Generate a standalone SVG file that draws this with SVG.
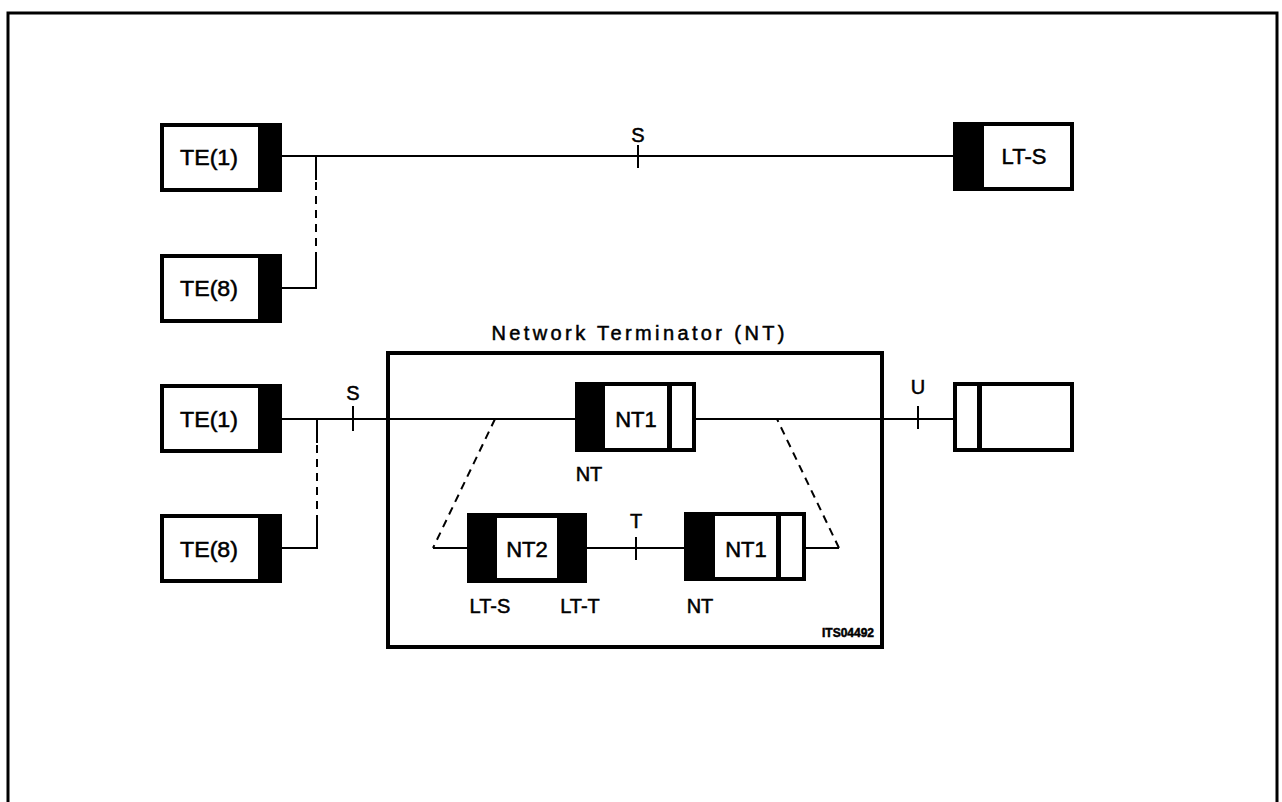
<svg xmlns="http://www.w3.org/2000/svg" width="1282" height="802" viewBox="0 0 1282 802">
<style>
text{font-family:"Liberation Sans","DejaVu Sans",sans-serif;fill:#000;stroke:#000;stroke-width:0.5}
.lbl{font-size:22px;text-anchor:middle}
.sm{font-size:20px;text-anchor:middle}
.box{fill:#fff;stroke:#000;stroke-width:4}
.blk{fill:#000}
.ln{stroke:#000;stroke-width:2;fill:none}
.dash{stroke:#000;stroke-width:2;fill:none;stroke-dasharray:8,6}
</style>
<rect width="1282" height="802" fill="#fff"/>
<path d="M8,812 V13 H1277 V812" fill="none" stroke="#000" stroke-width="3"/>

<g id="connectors">
  <line class="ln" x1="282" y1="156" x2="953" y2="156"/>
  <line class="ln" x1="638" y1="145" x2="638" y2="168"/>
  <line class="ln" x1="316" y1="156" x2="316" y2="180"/>
  <line class="dash" x1="316" y1="182" x2="316" y2="258"/>
  <polyline class="ln" points="316,258 316,288 282,288"/>

  <line class="ln" x1="282" y1="419" x2="575" y2="419"/>
  <line class="ln" x1="353" y1="406" x2="353" y2="431"/>
  <line class="ln" x1="317" y1="419" x2="317" y2="443"/>
  <line class="dash" x1="317" y1="445" x2="317" y2="520"/>
  <polyline class="ln" points="317,520 317,548 282,548"/>

  <line class="ln" x1="696" y1="419" x2="953" y2="419"/>
  <line class="ln" x1="918" y1="406" x2="918" y2="429"/>

  <line class="dash" x1="495" y1="419" x2="433" y2="548"/>
  <line class="ln" x1="433" y1="548" x2="467" y2="548"/>
  <line class="ln" x1="587" y1="548" x2="684" y2="548"/>
  <line class="ln" x1="636" y1="537" x2="636" y2="560"/>
  <line class="ln" x1="806" y1="548" x2="839" y2="548"/>
  <line class="dash" x1="839" y1="548" x2="777" y2="419"/>
</g>

<text class="sm" x="638" y="142">S</text>
<text class="sm" x="353" y="400">S</text>
<text class="sm" x="918" y="394">U</text>
<text class="sm" x="636" y="528">T</text>

<g id="te1-top">
  <rect class="box" x="162" y="125" width="118" height="65"/>
  <rect class="blk" x="258" y="123" width="24" height="69"/>
  <text class="lbl" x="209" y="165" textLength="58" lengthAdjust="spacingAndGlyphs">TE(1)</text>
</g>
<g id="te8-top">
  <rect class="box" x="162" y="256" width="118" height="65"/>
  <rect class="blk" x="258" y="254" width="24" height="69"/>
  <text class="lbl" x="209" y="296" textLength="58" lengthAdjust="spacingAndGlyphs">TE(8)</text>
</g>
<g id="lts-top">
  <rect class="box" x="955" y="124" width="117" height="65"/>
  <rect class="blk" x="953" y="122" width="31" height="69"/>
  <text class="lbl" x="1024" y="164">LT-S</text>
</g>
<g id="te1-bot">
  <rect class="box" x="162" y="386" width="118" height="65"/>
  <rect class="blk" x="258" y="384" width="24" height="69"/>
  <text class="lbl" x="209" y="427" textLength="58" lengthAdjust="spacingAndGlyphs">TE(1)</text>
</g>
<g id="te8-bot">
  <rect class="box" x="162" y="516" width="118" height="65"/>
  <rect class="blk" x="258" y="514" width="24" height="69"/>
  <text class="lbl" x="209" y="557" textLength="58" lengthAdjust="spacingAndGlyphs">TE(8)</text>
</g>

<g id="nt-frame">
  <rect x="388" y="353" width="494" height="294" fill="none" stroke="#000" stroke-width="4"/>
  <text x="638" y="340" font-size="20" text-anchor="middle" textLength="293" lengthAdjust="spacing">Network Terminator (NT)</text>
  <text x="848" y="637" font-size="12" font-weight="bold" text-anchor="middle">ITS04492</text>
</g>

<g id="nt1-top">
  <rect class="box" x="577" y="384" width="117" height="66"/>
  <rect class="blk" x="575" y="382" width="30" height="70"/>
  <rect class="blk" x="667" y="382" width="5" height="70"/>
  <text class="lbl" x="636" y="427">NT1</text>
  <text class="sm" x="589" y="481">NT</text>
</g>

<g id="nt2">
  <rect class="blk" x="467" y="513" width="120" height="70"/>
  <rect fill="#fff" stroke="none" x="497" y="518" width="60" height="60"/>
  <text class="lbl" x="527" y="557">NT2</text>
  <text class="sm" x="490" y="613">LT-S</text>
  <text class="sm" x="580" y="613">LT-T</text>
</g>

<g id="nt1-bot">
  <rect class="box" x="686" y="514" width="118" height="65"/>
  <rect class="blk" x="684" y="512" width="31" height="69"/>
  <rect class="blk" x="776" y="512" width="5" height="69"/>
  <text class="lbl" x="746" y="557">NT1</text>
  <text class="sm" x="700" y="613">NT</text>
</g>

<g id="lt-u">
  <rect class="box" x="955" y="384" width="117" height="66"/>
  <rect class="blk" x="977" y="382" width="5" height="70"/>
</g>
</svg>
